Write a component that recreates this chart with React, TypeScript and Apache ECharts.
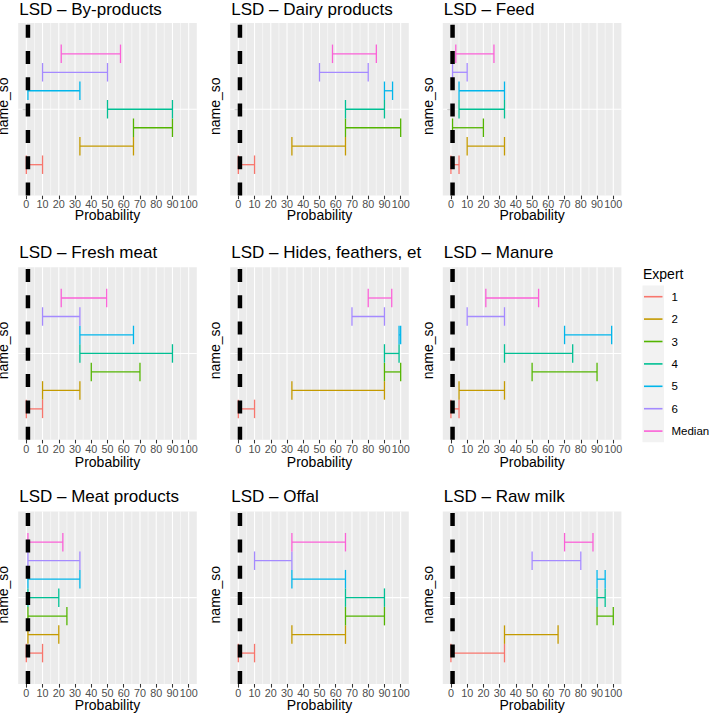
import React, { useEffect, useRef } from 'react';
import * as echarts from 'echarts';

// ---------- data ----------
const experts = ['1', '2', '3', '4', '5', '6', 'Median'];
const expertColors = ['#F8766D', '#C49A00', '#53B400', '#00C094', '#00B6EB', '#A58AFF', '#FB61D7'];

const panelTitles = [
  'LSD – By-products',
  'LSD – Dairy products',
  'LSD – Feed',
  'LSD – Fresh meat',
  'LSD – Hides, feathers, et',
  'LSD – Manure',
  'LSD – Meat products',
  'LSD – Offal',
  'LSD – Raw milk',
];

// lower / upper probability per expert (1..6, Median)
const byProductsLow = [0, 33, 66, 50, 1, 10, 21.5];
const byProductsHigh = [10, 66, 90, 90, 33, 50, 58];
const dairyLow = [0, 33, 66, 66, 90, 50, 58];
const dairyHigh = [10, 66, 100, 90, 95, 80, 85];
const feedLow = [0, 10, 1, 5, 5, 1, 3];
const feedHigh = [5, 33, 20, 33, 33, 10, 26.5];
const freshMeatLow = [0, 10, 40, 33, 33, 10, 21.5];
const freshMeatHigh = [10, 33, 70, 90, 66, 33, 49.5];
const hidesLow = [0, 33, 90, 90, 99, 70, 80];
const hidesHigh = [10, 90, 100, 99, 100, 90, 94.5];
const manureLow = [0, 5, 50, 33, 70, 10, 21.5];
const manureHigh = [5, 33, 90, 75, 99, 33, 54];
const meatProductsLow = [0, 1, 1, 1, 1, 1, 1];
const meatProductsHigh = [10, 20, 25, 20, 33, 33, 22.5];
const offalLow = [0, 33, 66, 66, 33, 10, 33];
const offalHigh = [10, 66, 90, 90, 66, 33, 66];
const rawMilkLow = [0, 33, 90, 90, 90, 50, 70];
const rawMilkHigh = [33, 66, 100, 95, 95, 80, 87.5];

const panelLows = [byProductsLow, dairyLow, feedLow, freshMeatLow, hidesLow, manureLow, meatProductsLow, offalLow, rawMilkLow];
const panelHighs = [byProductsHigh, dairyHigh, feedHigh, freshMeatHigh, hidesHigh, manureHigh, meatProductsHigh, offalHigh, rawMilkHigh];

const thresholdValue = 1;
const xTicks = [0, 10, 20, 30, 40, 50, 60, 70, 80, 90, 100];
const xMinorBreaks = [5, 15, 25, 35, 45, 55, 65, 75, 85, 95];

// ---------- layout ----------
const FONT = '"Liberation Sans", Arial, Helvetica, sans-serif';
const colLeft = [18.2, 230.2, 442.8];
const panelW = 178.6;
const rowTop = [23, 267.2, 511.4];
const panelH = 172.5;
const titleY = [9.8, 252.5, 496.5];
const xTitleY = [215, 461.5, 705];
const DODGE = 0.9 / 7;
const Y_MIN = 0.4;
const Y_MAX = 1.6;

function buildOption() {
  const grids: any[] = [];
  const xAxes: any[] = [];
  const yAxes: any[] = [];
  const series: any[] = [];
  const graphics: any[] = [];

  panelTitles.forEach((title, k) => {
    const c = k % 3;
    const r = Math.floor(k / 3);
    const left = colLeft[c];
    const top = rowTop[r];
    const h = panelH;
    grids.push({
      left, top, width: panelW, height: h,
      show: true, backgroundColor: '#EBEBEB', borderWidth: 0,
    });
    xAxes.push({
      gridIndex: k, type: 'value', min: -5, max: 105, interval: 5,
      axisLine: { show: false },
      axisTick: { show: true, customValues: xTicks, length: 3.7, lineStyle: { color: '#333333', width: 1.07 } },
      axisLabel: {
        customValues: xTicks,
        formatter: (v: number) => (v % 10 === 0 && v >= 0 && v <= 100 ? String(v) : ''),
        color: '#4D4D4D', fontSize: 10.8, fontFamily: FONT, margin: 3.4,
      },
      splitLine: { show: false },
    });
    yAxes.push({
      gridIndex: k, type: 'value', min: Y_MIN, max: Y_MAX,
      axisLine: { show: false },
      axisTick: { show: true, customValues: [1], length: 3.7, lineStyle: { color: '#333333', width: 1.07 } },
      axisLabel: { show: false },
      splitLine: { show: false },
    });

    // vertical gridlines (major at breaks, minor between)
    series.push({
      type: 'custom', xAxisIndex: k, yAxisIndex: k, z: 1, silent: true,
      data: [...xTicks.map((v) => [v, 1]), ...xMinorBreaks.map((v) => [v, 0])],
      renderItem: (params: any, api: any) => {
        const cs = params.coordSys;
        const x = api.coord([api.value(0), 1])[0];
        const major = api.value(1) === 1;
        return {
          type: 'line',
          shape: { x1: x, y1: cs.y, x2: x, y2: cs.y + cs.height },
          style: { stroke: '#FFFFFF', lineWidth: major ? 1.07 : 0.53 },
        };
      },
    });
    // horizontal gridline at the single category
    series.push({
      type: 'line', xAxisIndex: k, yAxisIndex: k, z: 1, silent: true,
      data: [[-5, 1], [105, 1]], showSymbol: false, symbol: 'none',
      lineStyle: { color: '#FFFFFF', width: 1.07 },
    });
    // error bars
    const lows = panelLows[k];
    const highs = panelHighs[k];
    series.push({
      type: 'custom', name: title, xAxisIndex: k, yAxisIndex: k, z: 2, silent: true,
      data: experts.map((_, i) => [lows[i], highs[i], i]),
      renderItem: (params: any, api: any) => {
        const lo = api.value(0);
        const hi = api.value(1);
        const i = api.value(2);
        const y = 1 + (i - 3) * DODGE;
        const p1 = api.coord([lo, y]);
        const p2 = api.coord([hi, y]);
        const half = api.size([0, DODGE])[1] / 2;
        const style = { stroke: expertColors[i], lineWidth: 1.3, fill: 'none' };
        return {
          type: 'group',
          children: [
            { type: 'line', shape: { x1: p1[0], y1: p1[1], x2: p2[0], y2: p2[1] }, style },
            { type: 'line', shape: { x1: p1[0], y1: p1[1] - half, x2: p1[0], y2: p1[1] + half }, style },
            { type: 'line', shape: { x1: p2[0], y1: p2[1] - half, x2: p2[0], y2: p2[1] + half }, style },
          ],
        };
      },
    });
    // threshold dashed line
    series.push({
      type: 'line', xAxisIndex: k, yAxisIndex: k, z: 3, silent: true,
      data: [[thresholdValue, Y_MIN], [thresholdValue, Y_MAX]], showSymbol: false, symbol: 'none',
      lineStyle: { color: '#000000', width: 4.5, type: [13, 13.3], cap: 'butt' },
    });

    // texts
    graphics.push({
      type: 'text', x: left + 1, y: titleY[r],
      style: { text: title, fill: '#000000', fontSize: 17, fontFamily: FONT, align: 'left', verticalAlign: 'middle' },
    });
    graphics.push({
      type: 'text', x: left + panelW / 2, y: xTitleY[r],
      style: { text: 'Probability', fill: '#000000', fontSize: 14, fontFamily: FONT, align: 'center', verticalAlign: 'middle' },
    });
    graphics.push({
      type: 'text', x: left - 14.8, y: top + h / 2 - 3, rotation: Math.PI / 2,
      style: { text: 'name_so', fill: '#000000', fontSize: 14, fontFamily: FONT, align: 'center', verticalAlign: 'middle' },
    });
  });

  // legend
  const legX = 642.5;
  const keyTop = 285.5;
  const keyH = 22.4;
  graphics.push({
    type: 'text', x: 643, y: 274,
    style: { text: 'Expert', fill: '#000000', fontSize: 14, fontFamily: FONT, align: 'left', verticalAlign: 'middle' },
  });
  graphics.push({
    type: 'rect', shape: { x: legX, y: keyTop, width: 21.5, height: keyH * experts.length },
    style: { fill: '#F2F2F2' },
  });
  experts.forEach((name, i) => {
    const cy = keyTop + keyH * (i + 0.5);
    graphics.push({
      type: 'line', shape: { x1: legX + 1.5, y1: cy, x2: legX + 20, y2: cy },
      style: { stroke: expertColors[i], lineWidth: 1.6 },
    });
    graphics.push({
      type: 'text', x: 671.5, y: cy,
      style: { text: name, fill: '#000000', fontSize: 11.5, fontFamily: FONT, align: 'left', verticalAlign: 'middle' },
    });
  });

  return {
    animation: false,
    backgroundColor: '#FFFFFF',
    grid: grids,
    xAxis: xAxes,
    yAxis: yAxes,
    series,
    graphic: { elements: graphics },
  };
}

export default function App() {
  const ref = useRef<HTMLDivElement>(null);
  useEffect(() => {
    document.body.style.margin = '0';
    if (!ref.current) return;
    const chart = echarts.init(ref.current, null, { renderer: 'svg' });
    chart.setOption(buildOption() as any);
    return () => chart.dispose();
  }, []);
  return <div ref={ref} style={{ width: 709, height: 720 }} />;
}
